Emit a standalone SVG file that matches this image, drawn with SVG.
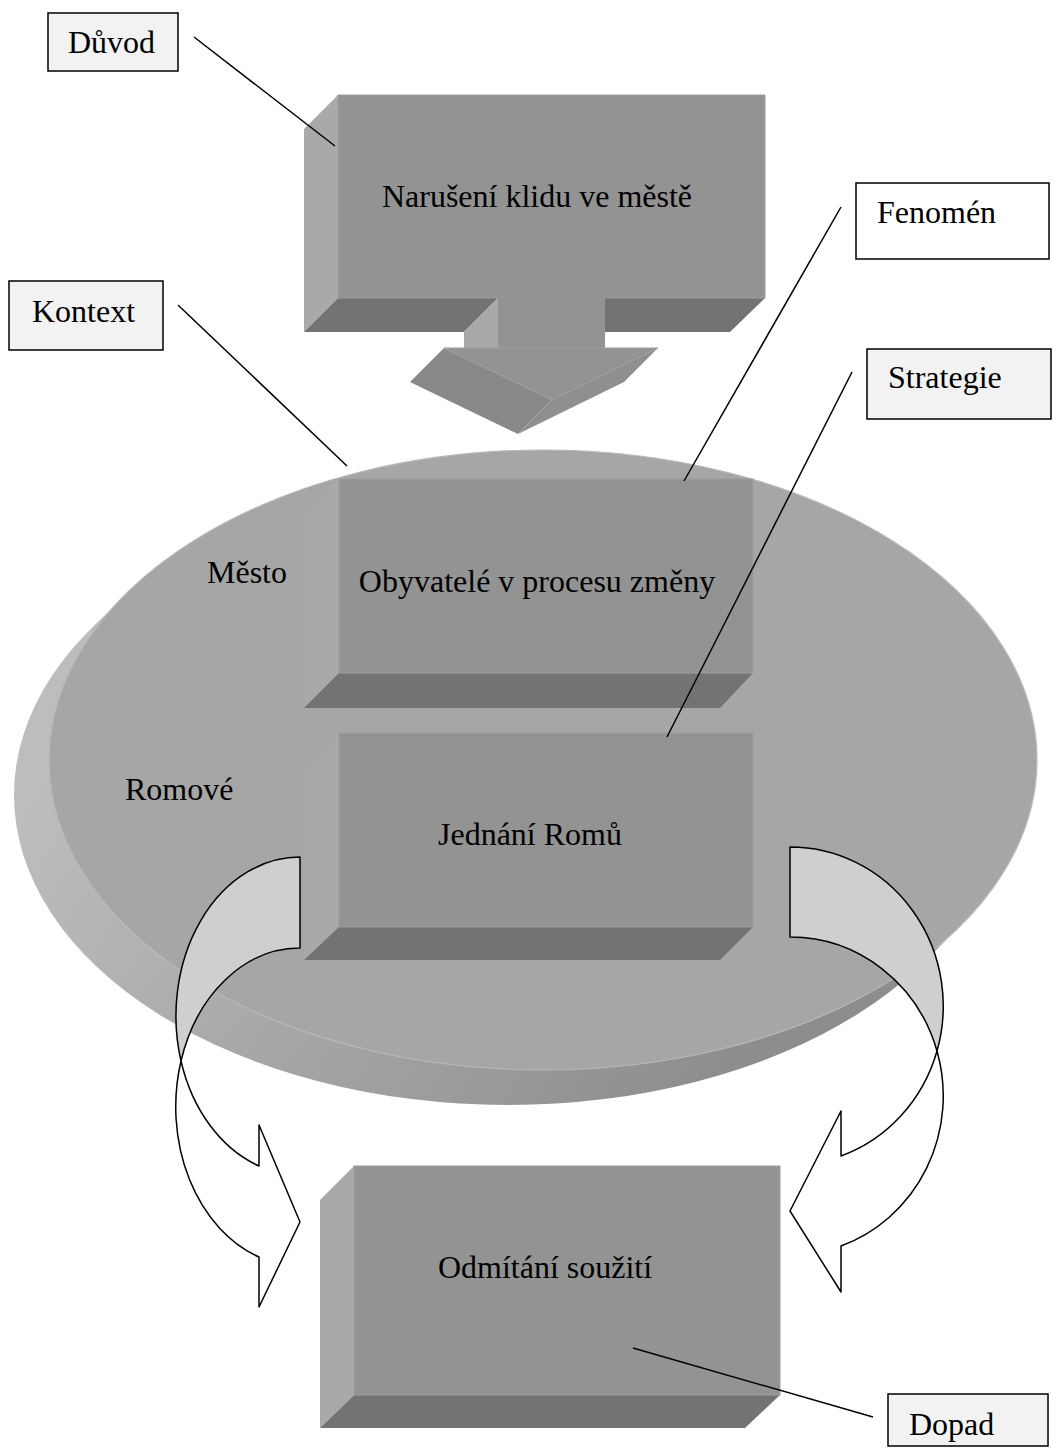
<svg xmlns="http://www.w3.org/2000/svg" width="1053" height="1450" viewBox="0 0 1053 1450">
<style>
.front{fill:#939393;stroke:#9e9e9e;stroke-width:1}
.left{fill:#a9a9a9}
.bottom{fill:#737373}
.t{font-family:"Liberation Serif","Times New Roman",serif;font-size:32px;fill:#000}
.lbl{fill:#f2f2f2;stroke:#000;stroke-width:1.5}
.conn{stroke:#000;stroke-width:1.5;fill:none}
.back{fill:#cfcfcf;stroke:#000;stroke-width:1.5;stroke-linejoin:round}
.fwd{fill:#fff;stroke:#000;stroke-width:1.5;stroke-linejoin:round}
</style>
<defs>
<linearGradient id="side" gradientUnits="userSpaceOnUse" x1="100" y1="700" x2="700" y2="1110">
<stop offset="0" stop-color="#bdbdbd"/>
<stop offset="1" stop-color="#8d8d8d"/>
</linearGradient>
</defs>
<rect width="1053" height="1450" fill="#fff"/>

<g id="disc">
<ellipse cx="508" cy="795" rx="494" ry="310" fill="url(#side)"/>
<polygon points="125,595 961,925 926,960 90,630" fill="url(#side)"/>
<ellipse cx="543" cy="760" rx="494" ry="310" fill="#a6a6a6" stroke="#b9b9b9" stroke-width="1.2"/>
<text class="t" x="207" y="583">Město</text>
<text class="t" x="125" y="800">Romové</text>
</g>

<g id="box-obyvatele">
<polygon class="left" points="304,514 339,479 339,673 304,708"/>
<polygon class="bottom" points="339,673 753,673 720,708 304,708"/>
<rect class="front" x="339" y="479" width="414" height="194"/>
<text class="t" x="537" y="592" text-anchor="middle">Obyvatelé v procesu změny</text>
</g>

<g id="box-jednani">
<polygon class="left" points="304,768 339,733 339,927 304,960"/>
<polygon class="bottom" points="339,927 753,927 720,960 304,960"/>
<rect class="front" x="339" y="733" width="414" height="194"/>
<text class="t" x="530" y="845" text-anchor="middle">Jednání Romů</text>
</g>

<g id="box-naruseni">
<polygon class="left" points="304,129 338,95 338,298 304,332"/>
<polygon class="bottom" points="338,298 498,298 464,332 304,332"/>
<polygon class="bottom" points="605,298 765,298 730,332 605,332"/>
<polygon class="left" points="464,332 498,298 498,348 464,348"/>
<rect class="front" x="338" y="95" width="427" height="203"/>
<rect x="498" y="297" width="107" height="51" fill="#939393"/>
<polygon points="444,348 552,400 518,434 410,382" fill="#888888"/>
<polygon points="552,400 658,348 624,382 518,434" fill="#8f8f8f"/>
<polygon points="444,348 658,348 552,400" fill="#939393" stroke="#9e9e9e" stroke-width="1"/>
<text class="t" x="537" y="207" text-anchor="middle">Narušení klidu ve městě</text>
</g>

<g id="box-odmitani">
<polygon class="left" points="320,1200 354,1166 354,1395 320,1428"/>
<polygon class="bottom" points="354,1395 780,1395 745,1428 320,1428"/>
<rect class="front" x="354" y="1166" width="426" height="229"/>
<text class="t" x="545" y="1278" text-anchor="middle">Odmítání soužití</text>
</g>

<g id="arrow-left">
<path class="back" d="M300,857 A124,159 0 0 0 181,1061 A124,159 0 0 1 300,948 Z"/>
<path class="fwd" d="M181,1061 A124,159 0 0 0 259,1257 L259,1307 L300,1222 L259,1125 L259,1166 A124,159 0 0 1 181,1061 Z"/>
</g>

<g id="arrow-right">
<path class="back" d="M790,847 A153,159 0 0 1 937,1051 A153,159 0 0 0 790,937 Z"/>
<path class="fwd" d="M937,1051 A153,159 0 0 1 841,1246 L841,1292 L790,1211 L841,1111 L841,1156 A153,159 0 0 0 937,1051 Z"/>
</g>

<g id="connectors">
<line class="conn" x1="194" y1="37" x2="335" y2="146"/>
<line class="conn" x1="178" y1="305" x2="347" y2="466"/>
<line class="conn" x1="841" y1="207" x2="684" y2="481"/>
<line class="conn" x1="852" y1="372" x2="667" y2="737"/>
<line class="conn" x1="633" y1="1348" x2="873" y2="1417"/>
</g>

<g id="label-duvod">
<rect class="lbl" x="48" y="13" width="130" height="58"/>
<text class="t" x="68" y="53">Důvod</text>
</g>
<g id="label-kontext">
<rect class="lbl" x="9" y="281" width="154" height="69"/>
<text class="t" x="32" y="322">Kontext</text>
</g>
<g id="label-fenomen">
<rect class="lbl" x="856" y="183" width="193" height="76" style="fill:#fff"/>
<text class="t" x="877" y="223">Fenomén</text>
</g>
<g id="label-strategie">
<rect class="lbl" x="867" y="349" width="184" height="70"/>
<text class="t" x="888" y="388">Strategie</text>
</g>
<g id="label-dopad">
<rect class="lbl" x="888" y="1394" width="160" height="52"/>
<text class="t" x="909" y="1435">Dopad</text>
</g>
</svg>
